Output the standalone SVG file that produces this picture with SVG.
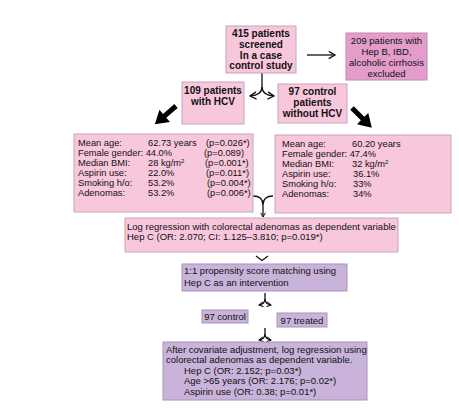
<svg xmlns="http://www.w3.org/2000/svg" width="459" height="413" viewBox="0 0 459 413">
<defs>
<style>
text{font-family:"Liberation Sans",Arial,sans-serif;font-size:9.5px;fill:#111}
.s{font-size:9.3px}
.b{font-weight:bold;font-size:10px}
.c{text-anchor:middle}
.pk{fill:#f8c7dc;stroke:#c4a6b8;stroke-width:1}
.dp{fill:#e49dca;stroke:#c08aab;stroke-width:1}
.pu{fill:#c9b3da;stroke:#a793bb;stroke-width:1}
.ln{fill:none;stroke:#111;stroke-width:1.3}
</style>
<marker id="oa" viewBox="0 0 10 10" refX="8" refY="5" markerWidth="6" markerHeight="6" orient="auto" markerUnits="userSpaceOnUse">
<path d="M1,1 L8,5 L1,9" fill="none" stroke="#111" stroke-width="1.6"/>
</marker>
<marker id="ob" viewBox="0 0 10 10" refX="8" refY="5" markerWidth="9" markerHeight="9" orient="auto" markerUnits="userSpaceOnUse">
<path d="M1,1 L8,5 L1,9" fill="none" stroke="#111" stroke-width="1.4"/>
</marker>
<path id="bigarrow" d="M0,-2.5 H15 V-8 L28,0 L15,8 V2.5 H0 Z" fill="#000"/>
</defs>

<g id="connectors">
<path class="ln" d="M307,55 H335" marker-end="url(#ob)"/>
<path class="ln" d="M262,73 V87 Q262,95 250,96" marker-end="url(#ob)"/>
<path class="ln" d="M262,87 Q262,95 274,96" marker-end="url(#ob)"/>
<use href="#bigarrow" transform="translate(176,106) rotate(139)"/>
<use href="#bigarrow" transform="translate(352,108) rotate(45)"/>
<path class="ln" d="M253,196 C259,196 263,198 263,205 C263,198 267,196 273,196 M263,205 V217" marker-end="url(#oa)"/>
<path class="ln" d="M256,256 L262,260.5 L268,256" stroke-width="1"/>
<path class="ln" d="M265,293 V299 Q265,304 259,305" stroke-width="1" marker-end="url(#oa)"/>
<path class="ln" d="M265,299 Q265,304 271,305" stroke-width="1" marker-end="url(#oa)"/>
<path class="ln" d="M265,328 V334 Q265,339 259,340" stroke-width="1" marker-end="url(#oa)"/>
<path class="ln" d="M265,334 Q265,339 271,340" stroke-width="1" marker-end="url(#oa)"/>
</g>

<g id="screened">
<rect class="pk" x="226" y="26" width="70" height="47"/>
<text class="b c" x="261" y="37">415 patients</text>
<text class="b c" x="261" y="48">screened</text>
<text class="b c" x="261" y="58.5">In a case</text>
<text class="b c" x="261" y="69">control study</text>
</g>

<g id="excluded">
<rect class="dp" x="346" y="33" width="81" height="47"/>
<text class="c" x="386.5" y="44">209 patients with</text>
<text class="c" x="386.5" y="55">Hep B, IBD,</text>
<text class="c" x="386.5" y="66">alcoholic cirrhosis</text>
<text class="c" x="386.5" y="77">excluded</text>
</g>

<g id="hcv">
<rect class="pk" x="182" y="82" width="62" height="42"/>
<text class="b c" x="213" y="94">109 patients</text>
<text class="b c" x="213" y="105">with HCV</text>
</g>

<g id="control">
<rect class="pk" x="278" y="84" width="69" height="39"/>
<text class="b c" x="312.5" y="95">97 control</text>
<text class="b c" x="312.5" y="106">patients</text>
<text class="b c" x="312.5" y="117">without HCV</text>
</g>

<g id="hcv-stats">
<rect class="pk" x="74" y="134" width="179" height="78"/>
<text class="s" x="78" y="145.5">Mean age:</text><text class="s" x="148" y="145.5">62.73 years</text><text class="s" x="206" y="145.5">(p=0.026*)</text>
<text class="s" x="78" y="155.5">Female gender: 44.0%</text><text class="s" x="204" y="155.5">(p=0.089)</text>
<text class="s" x="78" y="165.5">Median BMI:</text><text class="s" x="148" y="165.5">28 kg/m<tspan font-size="6" dy="-3">2</tspan></text><text class="s" x="205" y="165.5">(p=0.001*)</text>
<text class="s" x="78" y="175.5">Aspirin use:</text><text class="s" x="148" y="175.5">22.0%</text><text class="s" x="206" y="175.5">(p=0.011*)</text>
<text class="s" x="78" y="185.5">Smoking h/o:</text><text class="s" x="148" y="185.5">53.2%</text><text class="s" x="207" y="185.5">(p=0.004*)</text>
<text class="s" x="78" y="195.5">Adenomas:</text><text class="s" x="148" y="195.5">53.2%</text><text class="s" x="207" y="195.5">(p=0.006*)</text>
</g>

<g id="control-stats">
<rect class="pk" x="275" y="135" width="176" height="78"/>
<text class="s" x="282" y="147">Mean age:</text><text class="s" x="352" y="147">60.20 years</text>
<text class="s" x="282" y="157">Female gender: 47.4%</text>
<text class="s" x="282" y="167">Median BMI:</text><text class="s" x="352" y="167">32 kg/m<tspan font-size="6" dy="-3">2</tspan></text>
<text class="s" x="282" y="177">Aspirin use:</text><text class="s" x="353" y="177">36.1%</text>
<text class="s" x="282" y="187">Smoking h/o:</text><text class="s" x="353" y="187">33%</text>
<text class="s" x="282" y="197">Adenomas:</text><text class="s" x="353" y="197">34%</text>
</g>

<g id="logreg">
<rect class="pk" x="125" y="218" width="273" height="34"/>
<text x="127" y="229.5">Log regression with colorectal adenomas as dependent variable</text>
<text x="127" y="240">Hep C (OR: 2.070; CI: 1.125–3.810; p=0.019*)</text>
</g>

<g id="psm">
<rect class="pu" x="182" y="264" width="165" height="27"/>
<text x="184" y="274">1:1 propensity score matching using</text>
<text x="184" y="286">Hep C as an intervention</text>
</g>

<g id="ctrl97">
<rect class="pu" x="202" y="310" width="46" height="13"/>
<text class="c" x="225" y="320">97 control</text>
</g>

<g id="treated97">
<rect class="pu" x="277" y="313" width="50" height="14"/>
<text class="c" x="302" y="324">97 treated</text>
</g>

<g id="final">
<rect class="pu" x="163" y="342" width="204" height="58"/>
<text x="166" y="352.5">After covariate adjustment, log regression using</text>
<text x="166" y="363">colorectal adenomas as dependent variable.</text>
<text x="184" y="373.5">Hep C (OR: 2.152; p=0.03*)</text>
<text x="184" y="384">Age &gt;65 years (OR: 2.176; p=0.02*)</text>
<text x="184" y="394.5">Aspirin use (OR: 0.38; p=0.01*)</text>
</g>
</svg>
